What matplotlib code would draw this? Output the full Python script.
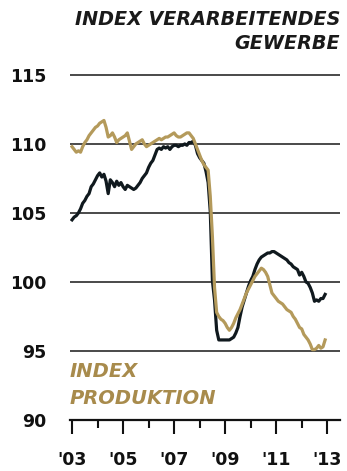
import numpy as np
import matplotlib
matplotlib.use("Agg")
import matplotlib.pyplot as plt
from matplotlib.ticker import MultipleLocator

# Monatswerte Jan 2003 - Dez 2012
verarbeitendes_gewerbe = [
    104.5, 104.7, 104.8, 105.0, 105.3, 105.7, 105.9, 106.2, 106.4, 106.9,
    107.1, 107.4, 107.7, 107.9, 107.6, 107.8, 107.3, 106.4, 107.4, 107.2,
    106.9, 107.3, 107.0, 107.2, 106.9, 106.7, 107.0, 106.9, 106.8, 106.7,
    106.8, 107.0, 107.2, 107.5, 107.7, 107.9, 108.3, 108.6, 108.8, 109.2,
    109.6, 109.7, 109.6, 109.8, 109.7, 109.8, 109.6, 109.8, 109.9, 109.9,
    109.8, 109.9, 109.9, 110.0, 109.9, 110.1, 110.1, 110.2, 109.9, 109.3,
    109.0, 108.8, 108.6, 108.0, 107.2, 105.1, 100.1, 98.7, 96.5, 95.8,
    95.8, 95.8, 95.8, 95.8, 95.8, 95.9, 96.0, 96.3, 96.7, 97.5,
    98.2, 98.7, 99.2, 99.7, 100.1, 100.4, 100.9, 101.3, 101.6, 101.8,
    101.9, 102.0, 102.1, 102.1, 102.2, 102.2, 102.1, 102.0, 101.9, 101.8,
    101.7, 101.6, 101.4, 101.3, 101.1, 101.0, 100.9, 100.5, 100.7, 100.4,
    100.0, 99.9, 99.6, 99.2, 98.6, 98.7, 98.6, 98.8, 98.8, 99.1,
]
produktion = [
    109.8, 109.6, 109.4, 109.5, 109.4, 109.8, 110.1, 110.3, 110.6, 110.8,
    111.0, 111.2, 111.3, 111.5, 111.6, 111.7, 111.2, 110.5, 110.6, 110.8,
    110.5, 110.1, 110.3, 110.4, 110.5, 110.6, 110.8, 110.2, 109.6, 109.8,
    110.0, 110.1, 110.2, 110.3, 110.0, 109.8, 109.9, 110.0, 110.1, 110.2,
    110.3, 110.4, 110.3, 110.4, 110.5, 110.5, 110.6, 110.7, 110.8, 110.6,
    110.5, 110.5, 110.6, 110.7, 110.8, 110.8, 110.6, 110.4, 110.0, 109.6,
    109.2, 108.8, 108.5, 108.3, 108.1, 106.2, 103.3, 99.6, 97.8, 97.5,
    97.3, 97.2, 97.0, 96.7, 96.5, 96.7, 97.0, 97.4, 97.7, 98.0,
    98.4, 98.8, 99.2, 99.5, 99.8, 100.1, 100.4, 100.6, 100.8, 101.0,
    100.9, 100.7, 100.4, 99.8, 99.2, 99.0, 98.8, 98.6, 98.5, 98.4,
    98.2, 98.0, 97.9, 97.8, 97.5, 97.3, 97.0, 96.7, 96.6, 96.2,
    96.0, 95.8, 95.5, 95.1, 95.1, 95.2, 95.4, 95.2, 95.3, 95.8,
]
y_ticks = [90, 95, 100, 105, 110, 115]
x_ticks = [2003, 2005, 2007, 2009, 2011, 2013]
x_labels = ["'03", "'05", "'07", "'09", "'11", "'13"]

DUNKEL = "#10191e"
GOLD = "#b49a5b"
GOLD_TEXT = "#a88b4c"

W, H = 347, 471
fig = plt.figure(figsize=(W / 100, H / 100), dpi=100)
ax = fig.add_axes([70 / W, 51 / H, 270 / W, 352 / H])

jahre = 2003 + np.arange(len(verarbeitendes_gewerbe)) / 12

for y in y_ticks[1:]:
    ax.axhline(y, color="#2b2b2b", lw=1.2, zorder=1)

ax.plot(jahre, verarbeitendes_gewerbe, color=DUNKEL, lw=2.3, zorder=3)
ax.plot(jahre, produktion, color=GOLD, lw=2.3, zorder=4)

ax.set_xlim(2002.92, 2013.5)
ax.set_ylim(90, 115.5)

for s in ["top", "right", "left"]:
    ax.spines[s].set_visible(False)
ax.spines["bottom"].set_linewidth(1.6)
ax.spines["bottom"].set_color("#111111")

ax.set_yticks(y_ticks)
ax.set_yticklabels([str(v) for v in y_ticks], fontsize=12.5, fontweight="heavy",
                   family="DejaVu Sans", color="#111111")
ax.tick_params(axis="y", length=0, pad=17)

ax.set_xticks(x_ticks)
ax.set_xticklabels(x_labels, fontsize=12.5, fontweight="heavy",
                   family="DejaVu Sans", color="#111111")
ax.xaxis.set_minor_locator(MultipleLocator(1))
ax.tick_params(axis="x", which="major", direction="out", length=10, width=1.5, pad=12, color="#111111")
ax.tick_params(axis="x", which="minor", direction="out", length=5.5, width=1.5, color="#111111")

fig.text(340 / W, 1 - 10 / H, "INDEX VERARBEITENDES\nGEWERBE", ha="right", va="top",
         fontsize=13.8, fontweight="bold", fontstyle="italic", family="DejaVu Sans",
         color="#1a1a1a", linespacing=1.35)
ax.text(70 / W, 1 - 362 / H, "INDEX\nPRODUKTION", transform=fig.transFigure,
        ha="left", va="top", fontsize=14, fontweight="bold", fontstyle="italic",
        family="DejaVu Sans", color=GOLD_TEXT, linespacing=1.55, zorder=5)

fig.savefig("out.png", dpi=100)
